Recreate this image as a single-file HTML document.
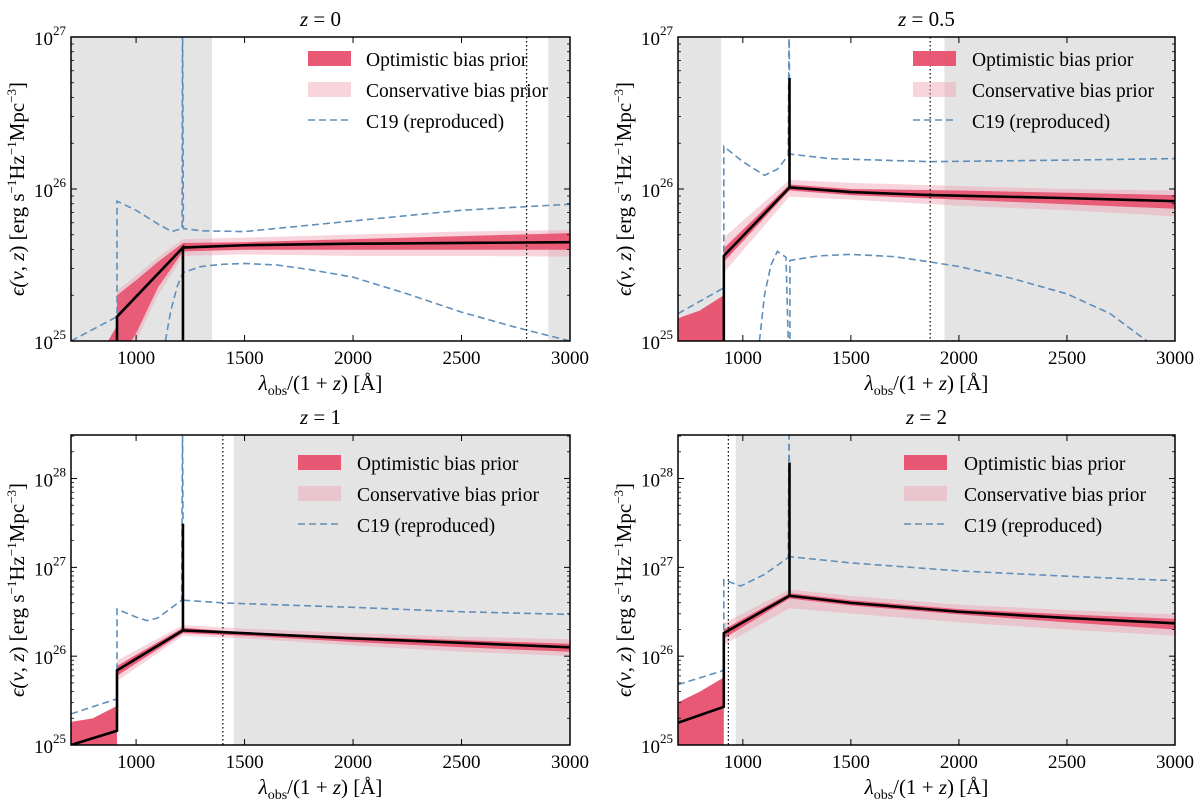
<!DOCTYPE html>
<html><head><meta charset="utf-8">
<style>
html,body{margin:0;padding:0;background:#fff;}
svg{display:block;font-family:"Liberation Serif","DejaVu Serif",serif;}
</style></head>
<body>
<svg id="fig" width="1200" height="805" viewBox="0 0 1200 805" xmlns="http://www.w3.org/2000/svg"></svg>
<script>
// ---- data (log10 of emissivity) ----
const titles = ["0", "0.5", "1", "2"];
const dotLines = [2800, 1867, 1400, 933];
const greyLo = [[700, 1350], [700, 900], null, null];
const greyHi = [[2900, 3000], [1933, 3000], [1450, 3000], [967, 3000]];
const yMaxLog = [27, 27, 28.49, 28.49];
const yTickExps = [[25, 26, 27], [25, 26, 27], [25, 26, 27, 28], [25, 26, 27, 28]];
const xTicks = [1000, 1500, 2000, 2500, 3000];

const medX0 = [912, 912, 1216, 1216, 1216, 1500, 2000, 2500, 3000];
const medY0 = [24.9, 25.16, 25.615, 24.9, 25.615, 25.63, 25.64, 25.645, 25.65];
const medX1 = [912, 912, 1216, 1216, 1216, 1500, 1867, 2500, 3000];
const medY1 = [24.9, 25.56, 26.01, 26.73, 26.01, 25.98, 25.96, 25.94, 25.92];
const medX2 = [700, 912, 912, 1216, 1216, 1216, 1400, 2000, 2500, 3000];
const medY2 = [25.0, 25.16, 25.84, 26.29, 27.49, 26.29, 26.27, 26.2, 26.15, 26.10];
const medX3 = [700, 912, 912, 1216, 1216, 1216, 1500, 2000, 2500, 3000];
const medY3 = [25.25, 25.43, 26.26, 26.68, 28.18, 26.68, 26.6, 26.5, 26.43, 26.37];

const optLeftX0 = [850, 912], optLeftLo0 = [24.9, 24.9], optLeftHi0 = [24.95, 25.1];
const optLeftX1 = [700, 800, 900, 912], optLeftLo1 = [24.8, 24.8, 24.8, 24.8], optLeftHi1 = [25.15, 25.2, 25.29, 25.30];
const optLeftX2 = [700, 800, 912], optLeftLo2 = [24.8, 24.8, 24.8], optLeftHi2 = [25.26, 25.30, 25.44];
const optLeftX3 = [700, 800, 912], optLeftLo3 = [25.0, 24.95, 24.95], optLeftHi3 = [25.48, 25.6, 25.76];

const bandX0 = [912, 1000, 1100, 1216, 1500, 2000, 2500, 3000];
const optHi0 = [25.30, 25.40, 25.52, 25.645, 25.65, 25.67, 25.69, 25.71];
const optLo0 = [24.85, 25.05, 25.35, 25.59, 25.60, 25.60, 25.60, 25.60];
const consHi0 = [25.33, 25.43, 25.55, 25.67, 25.68, 25.70, 25.72, 25.73];
const consLo0 = [24.8, 25.0, 25.3, 25.56, 25.57, 25.56, 25.56, 25.555];
const bandX1 = [912, 1216, 1500, 2000, 2500, 3000];
const optHi1 = [25.61, 26.03, 26.00, 25.99, 25.975, 25.96];
const optLo1 = [25.52, 25.99, 25.96, 25.93, 25.90, 25.87];
const consHi1 = [25.68, 26.06, 26.04, 26.02, 26.0, 25.99];
const consLo1 = [25.45, 25.95, 25.93, 25.89, 25.86, 25.82];
const bandX2 = [912, 1216, 1500, 2000, 2500, 3000];
const optHi2 = [25.89, 26.32, 26.27, 26.22, 26.18, 26.14];
const optLo2 = [25.78, 26.26, 26.23, 26.16, 26.1, 26.05];
const consHi2 = [25.95, 26.35, 26.31, 26.26, 26.22, 26.19];
const consLo2 = [25.72, 26.23, 26.2, 26.12, 26.05, 26.0];
const bandX3 = [912, 1216, 1500, 2000, 2500, 3000];
const optHi3 = [26.30, 26.71, 26.63, 26.53, 26.47, 26.42];
const optLo3 = [26.20, 26.65, 26.57, 26.47, 26.38, 26.30];
const consHi3 = [26.37, 26.75, 26.68, 26.58, 26.52, 26.47];
const consLo3 = [26.13, 26.54, 26.48, 26.38, 26.30, 26.23];

const c19aX0 = [700, 912, 912, 1000, 1100, 1165, 1212, 1214, 1218, 1300, 1500, 2000, 2500, 3000];
const c19aY0 = [25.0, 25.16, 25.92, 25.86, 25.77, 25.72, 25.74, 27.2, 25.74, 25.725, 25.72, 25.79, 25.86, 25.90];
const c19bX0 = [1135, 1160, 1190, 1216, 1300, 1400, 1500, 1650, 1800, 2000, 2250, 2500, 2750, 3000];
const c19bY0 = [25.0, 25.2, 25.36, 25.45, 25.49, 25.505, 25.51, 25.5, 25.47, 25.42, 25.31, 25.19, 25.09, 25.0];
const c19aX1 = [700, 912, 912, 1000, 1100, 1160, 1210, 1214, 1218, 1400, 1867, 2500, 3000];
const c19aY1 = [25.18, 25.35, 26.28, 26.18, 26.09, 26.13, 26.22, 27.1, 26.23, 26.2, 26.18, 26.19, 26.20];
const c19bX1 = [1077, 1100, 1130, 1160, 1200, 1212, 1218, 1218, 1350, 1500, 1700, 1867, 2000, 2250, 2500, 2700, 2870];
const c19bY1 = [25.0, 25.3, 25.5, 25.59, 25.55, 24.9, 24.9, 25.53, 25.56, 25.57, 25.555, 25.52, 25.49, 25.41, 25.31, 25.18, 25.0];
const c19aX2 = [700, 912, 912, 1000, 1050, 1100, 1210, 1214, 1218, 1400, 2000, 2500, 3000];
const c19aY2 = [25.35, 25.52, 26.53, 26.44, 26.40, 26.43, 26.63, 28.6, 26.63, 26.60, 26.55, 26.50, 26.47];
const c19aX3 = [700, 912, 912, 990, 1100, 1210, 1214, 1218, 1500, 2000, 2500, 3000];
const c19aY3 = [25.68, 25.84, 26.86, 26.79, 26.92, 27.11, 28.6, 27.12, 27.05, 26.96, 26.9, 26.85];

const legendLabels = ["Optimistic bias prior", "Conservative bias prior", "C19 (reproduced)"];

const panels = [
  {x0:71, x1:570, y0:37, y1:341, med:[medX0,medY0], ol:[optLeftX0,optLeftLo0,optLeftHi0], bx:bandX0, oh:optHi0, olo:optLo0, ch:consHi0, clo:consLo0, c19:[[c19aX0,c19aY0],[c19bX0,c19bY0]], leg:[308,366,59]},
  {x0:678, x1:1175, y0:37, y1:341, med:[medX1,medY1], ol:[optLeftX1,optLeftLo1,optLeftHi1], bx:bandX1, oh:optHi1, olo:optLo1, ch:consHi1, clo:consLo1, c19:[[c19aX1,c19aY1],[c19bX1,c19bY1]], leg:[913,972,59]},
  {x0:71, x1:570, y0:435, y1:745, med:[medX2,medY2], ol:[optLeftX2,optLeftLo2,optLeftHi2], bx:bandX2, oh:optHi2, olo:optLo2, ch:consHi2, clo:consLo2, c19:[[c19aX2,c19aY2]], leg:[298,357,463]},
  {x0:678, x1:1175, y0:435, y1:745, med:[medX3,medY3], ol:[optLeftX3,optLeftLo3,optLeftHi3], bx:bandX3, oh:optHi3, olo:optLo3, ch:consHi3, clo:consLo3, c19:[[c19aX3,c19aY3]], leg:[904,964,463]}
];

const NS = "http://www.w3.org/2000/svg";
const svg = document.getElementById("fig");
function mk(tag, attrs, parent) {
  const e = document.createElementNS(NS, tag);
  for (const k in attrs) e.setAttribute(k, attrs[k]);
  (parent || svg).appendChild(e);
  return e;
}
const names = ["z0", "z05", "z1", "z2"];

panels.forEach((p, i) => {
  const xs = v => p.x0 + (v - 700) / 2300 * (p.x1 - p.x0);
  const ys = l => p.y1 - (l - 25) / (yMaxLog[i] - 25) * (p.y1 - p.y0);
  const g = mk("g", {});
  
  
  const clipId = "clip" + i;
  const cp = mk("clipPath", {id: clipId}, g);
  mk("rect", {x:p.x0, y:p.y0, width:p.x1-p.x0, height:p.y1-p.y0}, cp);
  const pg = mk("g", {"clip-path":"url(#" + clipId + ")"}, g);

  [greyLo[i], greyHi[i]].forEach(r => {
    if (!r) return;
    const e = mk("rect", {x:xs(r[0]), y:p.y0, width:xs(r[1])-xs(r[0]), height:p.y1-p.y0, fill:"#e4e4e4"}, pg);
    
    
  });

  const band = (X, lo, hi, fill, op, nm) => {
    let d = "M" + X.map((x, k) => xs(x) + "," + ys(hi[k])).join("L");
    d += "L" + X.slice().reverse().map((x, k) => xs(x) + "," + ys(lo[X.length-1-k])).join("L") + "Z";
    const e = mk("path", {d:d, fill:fill, "fill-opacity":op}, pg);
    
    
  };
  band(p.bx, p.clo, p.ch, "#f0a0b4", 0.45, 'conservative-band');
  band(p.ol[0], p.ol[1], p.ol[2], "#e8506e", 0.95, 'optimistic-band-left');
  band(p.bx, p.olo, p.oh, "#e8506e", 0.9, 'optimistic-band');

  p.c19.forEach(c => {
    const e = mk("polyline", {points:c[0].map((x, k) => xs(x) + "," + ys(c[1][k])).join(" "), fill:"none", stroke:"#5f8fba", "stroke-width":1.6, "stroke-dasharray":"7,4"}, pg);
    
    
  });

  const med = mk("polyline", {points:p.med[0].map((x, k) => xs(x) + "," + ys(p.med[1][k])).join(" "), fill:"none", stroke:"#000", "stroke-width":2.6, "stroke-linejoin":"miter"}, pg);
  
  

  const dl = mk("line", {x1:xs(dotLines[i]), x2:xs(dotLines[i]), y1:p.y0, y2:p.y1, stroke:"#000", "stroke-width":1.2, "stroke-dasharray":"1.5,2.5"}, pg);
  
  

  const frame = mk("rect", {x:p.x0, y:p.y0, width:p.x1-p.x0, height:p.y1-p.y0, fill:"none", stroke:"#000", "stroke-width":1.5}, g);
  
  

  xTicks.forEach(t => {
    const X = xs(t);
    mk("line", {x1:X, x2:X, y1:p.y1, y2:p.y1-6, stroke:"#000", "stroke-width":1}, g);
    mk("line", {x1:X, x2:X, y1:p.y0, y2:p.y0+6, stroke:"#000", "stroke-width":1}, g);
    const tx = mk("text", {x:X, y:p.y1+23, "font-size":19, "text-anchor":"middle"}, g);
    tx.textContent = t;
    
    
  });
  const yMax = yMaxLog[i];
  for (let e = 25; e <= Math.floor(yMax); e++) {
    for (let m = 2; m <= 9; m++) {
      const l = e + Math.log10(m);
      if (l > yMax) break;
      mk("line", {x1:p.x0, x2:p.x0+3, y1:ys(l), y2:ys(l), stroke:"#000", "stroke-width":0.8}, g);
      mk("line", {x1:p.x1, x2:p.x1-3, y1:ys(l), y2:ys(l), stroke:"#000", "stroke-width":0.8}, g);
    }
  }
  yTickExps[i].forEach(e => {
    const Y = ys(e);
    mk("line", {x1:p.x0, x2:p.x0+6, y1:Y, y2:Y, stroke:"#000", "stroke-width":1}, g);
    mk("line", {x1:p.x1, x2:p.x1-6, y1:Y, y2:Y, stroke:"#000", "stroke-width":1}, g);
    const tx = mk("text", {x:p.x0-5, y:Y+8, "font-size":19, "text-anchor":"end"}, g);
    
    
    const a = mk("tspan", {}, tx); a.textContent = "10";
    const b = mk("tspan", {dy:-10, "font-size":13}, tx); b.textContent = e;
  });

  const cx = (p.x0 + p.x1) / 2;
  const tt = mk("text", {x:cx, y:p.y0-11, "font-size":21, "text-anchor":"middle"}, g);
  
  
  const t1 = mk("tspan", {"font-style":"italic"}, tt); t1.textContent = "z";
  const t2 = mk("tspan", {}, tt); t2.textContent = " = " + titles[i];

  const xl = mk("text", {x:cx, y:p.y1+49, "font-size":21, "text-anchor":"middle"}, g);
  
  
  const a1 = mk("tspan", {"font-style":"italic"}, xl); a1.textContent = "λ";
  const a2 = mk("tspan", {dy:5, "font-size":14}, xl); a2.textContent = "obs";
  const a3 = mk("tspan", {dy:-5}, xl); a3.textContent = "/(1 + ";
  const a4 = mk("tspan", {"font-style":"italic"}, xl); a4.textContent = "z";
  const a5 = mk("tspan", {}, xl); a5.textContent = ") [Å]";

  const ycy = (p.y0 + p.y1) / 2;
  const lx = p.x0 - 47;
  const yl = mk("text", {x:lx, y:ycy, "font-size":21, "text-anchor":"middle", transform:"rotate(-90 " + lx + " " + ycy + ")"}, g);
  
  
  const parts = [["ϵ(", 0, 21, "italic"], ["ν", 0, 21, "italic"], [", ", 0, 21, ""], ["z", 0, 21, "italic"], [") [erg s", 0, 21, ""], ["−1", -8, 13, ""], ["Hz", 8, 21, ""], ["−1", -8, 13, ""], ["Mpc", 8, 21, ""], ["−3", -8, 13, ""], ["]", 8, 21, ""]];
  parts.forEach(q => {
    const s = mk("tspan", {dy:q[1], "font-size":q[2]}, yl);
    if (q[3]) s.setAttribute("font-style", q[3]);
    s.textContent = q[0];
  });

  const [lx0, ltx, ly] = p.leg;
  const lg = mk("g", {}, g);
  
  
  const r1 = mk("rect", {x:lx0, y:ly-8, width:43, height:15, fill:"#e8506e", "fill-opacity":0.95}, lg);
  
  
  const r2 = mk("rect", {x:lx0, y:ly+23, width:43, height:15, fill:"#f0a0b4", "fill-opacity":0.45}, lg);
  
  
  const l3 = mk("line", {x1:lx0, x2:lx0+43, y1:ly+61, y2:ly+61, stroke:"#5f8fba", "stroke-width":1.6, "stroke-dasharray":"7,4"}, lg);
  
  
  legendLabels.forEach((s, k) => {
    const t = mk("text", {x:ltx, y:ly + 7 + k * 31, "font-size":19.5}, lg);
    t.textContent = s;
    
    
  });
});
</script>
</body></html>
